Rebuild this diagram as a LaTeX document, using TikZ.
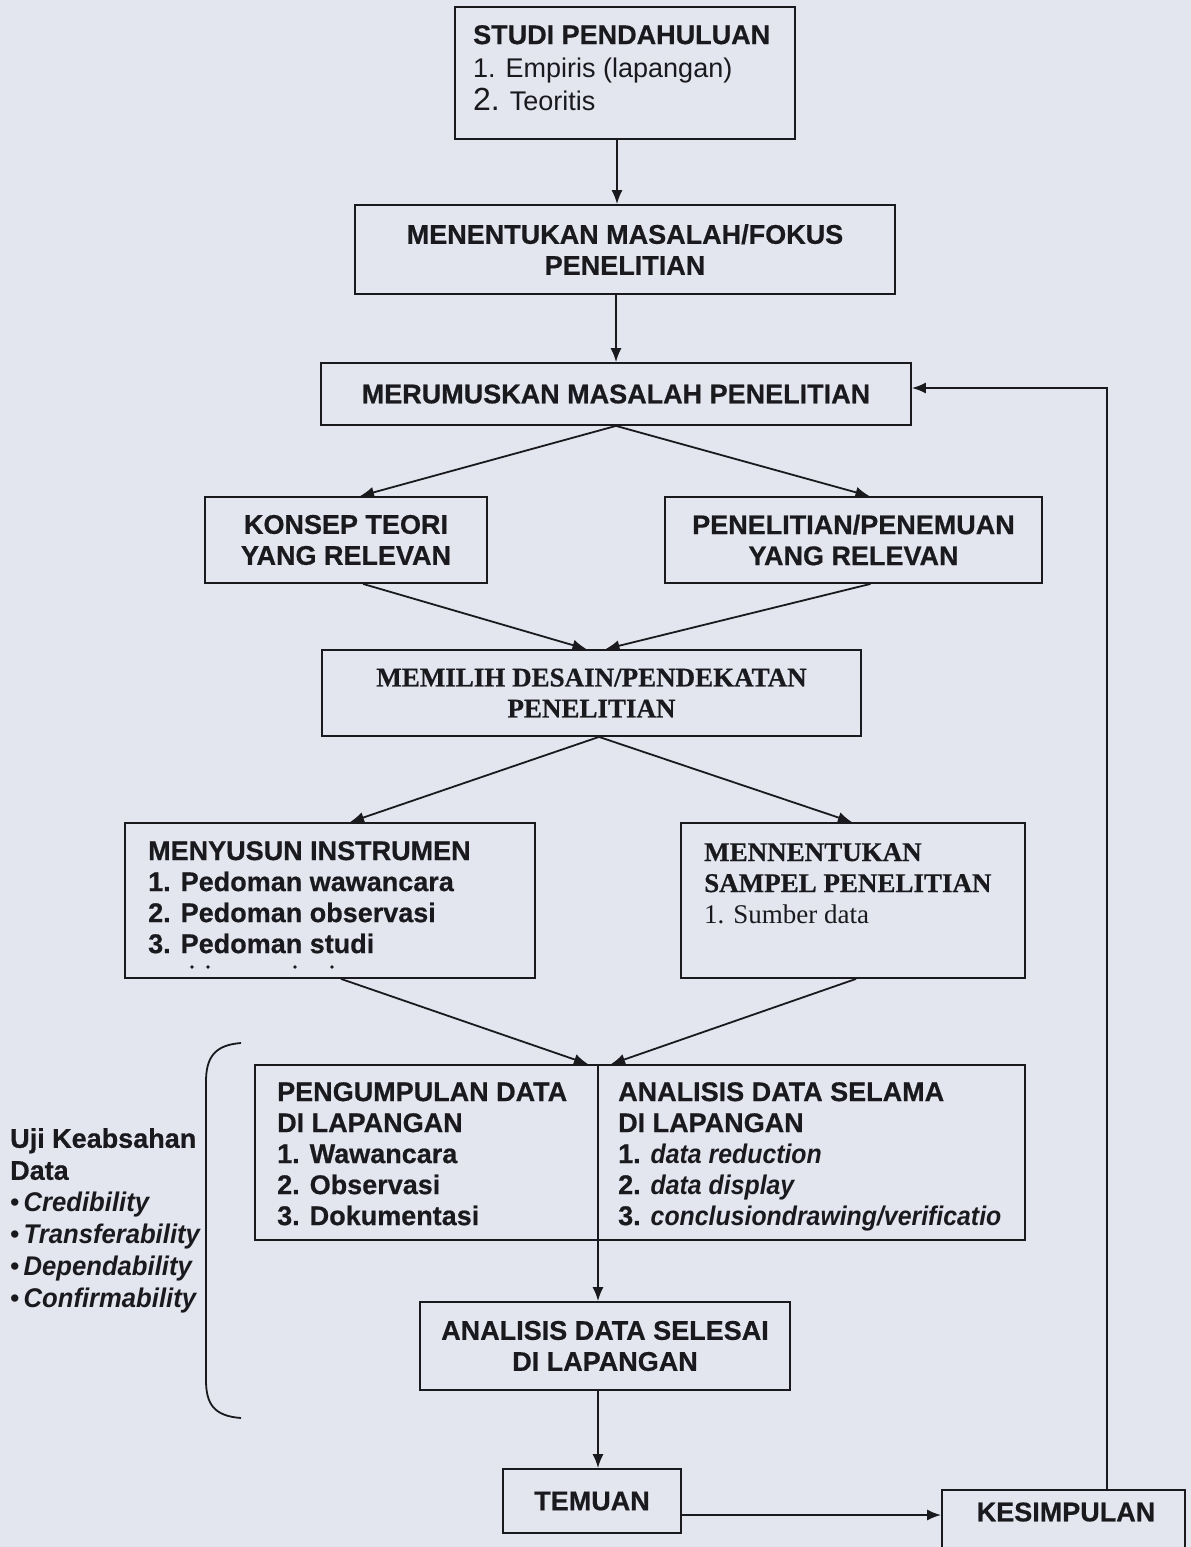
\documentclass[tikz,border=0pt]{standalone}
\usepackage{graphicx}
\usepackage{fontspec}
\setmainfont{Liberation Sans}[BoldFeatures={FakeBold=0.6}]
\newfontfamily\tms{Liberation Serif}[BoldFeatures={FakeBold=0.6}]
\usetikzlibrary{arrows.meta,calc}
\definecolor{bg}{RGB}{227,229,239}
\definecolor{ink}{RGB}{26,26,30}
\newcommand{\nit}[1]{\scalebox{0.92}[1]{\textit{#1}}}
\newcommand{\bit}[1]{\scalebox{0.95}[1]{\textbf{\textit{#1}}}}
\newcommand{\bul}{•\hspace{4pt}}
\begin{document}
\begin{tikzpicture}[x=1pt,y=-1pt,
  box/.style={draw=ink, line width=1.8pt, inner sep=0pt},
  lbl/.style={text=ink, font=\fontsize{27}{31}\selectfont\bfseries, align=center},
  tlbl/.style={text=ink, font=\fontsize{27}{31}\selectfont\tms\bfseries, align=center},
  txt/.style={text=ink, font=\fontsize{27}{31}\selectfont\bfseries, align=left, inner sep=0pt, anchor=north west},
  arr/.style={line width=1.8pt, draw=ink, -{Latex[length=14pt,width=11pt]}}]
\clip (0,0) rectangle (1191,1547);
\fill[bg] (0,0) rectangle (1191,1547);

% boxes
\node[box, minimum width=340pt, minimum height=132pt] (studi) at (625,73) {};
\node[txt, font=\fontsize{27}{33}\selectfont] (studiT) at (473,25)
  {\textbf{STUDI PENDAHULUAN}\\1. Empiris (lapangan)\\{\fontsize{32}{33}\selectfont 2.} Teoritis};

\node[box, lbl, minimum width=540pt, minimum height=89pt] (fokus) at (625,249.5)
  {MENENTUKAN MASALAH/FOKUS\\PENELITIAN};

\node[box, lbl, minimum width=590pt, minimum height=62pt] (rumus) at (616,394)
  {MERUMUSKAN MASALAH PENELITIAN};

\node[box, lbl, minimum width=282pt, minimum height=86pt] (konsep) at (346,540)
  {KONSEP TEORI\\YANG RELEVAN};
\node[box, lbl, minimum width=377pt, minimum height=86pt] (relevan) at (853.5,540)
  {PENELITIAN/PENEMUAN\\YANG RELEVAN};

\node[box, tlbl, minimum width=539pt, minimum height=86pt] (desain) at (591.5,693)
  {MEMILIH DESAIN/PENDEKATAN\\PENELITIAN};

\node[box, minimum width=410pt, minimum height=155pt] (instr) at (330,900.5) {};
\node[txt] (instrT) at (148,841)
  {MENYUSUN INSTRUMEN\\1. Pedoman wawancara\\2. Pedoman observasi\\3. Pedoman studi};
\foreach \dx in {192,208,295,332} \fill[ink] (\dx,967) circle (1.8pt);

\node[box, minimum width=344pt, minimum height=155pt] (sampel) at (853,900.5) {};
\node[txt, font=\fontsize{27}{31}\selectfont\tms\bfseries] (sampelT) at (704,843)
  {MENNENTUKAN\\SAMPEL PENELITIAN\\{\mdseries 1. Sumber data}};

\node[box, minimum width=770pt, minimum height=175pt] (kumpul) at (640,1152.5) {};
\node[txt] (kumpulL) at (277,1082)
  {PENGUMPULAN DATA\\DI LAPANGAN\\1. Wawancara\\2. Observasi\\3. Dokumentasi};
\node[txt] (kumpulR) at (618,1082)
  {ANALISIS DATA SELAMA\\DI LAPANGAN\\1. \nit{data reduction}\\2. \nit{data display}\\3. \nit{conclusiondrawing/verificatio}};

\node[box, lbl, minimum width=370pt, minimum height=88pt] (selesai) at (605,1346)
  {ANALISIS DATA SELESAI\\DI LAPANGAN};

\node[box, lbl, minimum width=178pt, minimum height=64pt] (temuan) at (592,1501) {TEMUAN};

\node[box, minimum width=243pt, minimum height=100pt] (simpul) at (1063.5,1540) {};
\node[lbl, inner sep=0pt] (simpulT) at (1066,1512) {KESIMPULAN};

% left note
\node[txt, font=\fontsize{27}{32}\selectfont] (uji) at (10,1128)
  {\textbf{Uji Keabsahan}\\\textbf{Data}\\\bul\bit{Credibility}\\\bul\bit{Transferability}\\\bul\bit{Dependability}\\\bul\bit{Confirmability}};
\draw[ink, line width=1.8pt] (241,1043) .. controls (214,1045) and (206,1058) .. (206,1082)
  -- (206,1380) .. controls (206,1404) and (214,1416) .. (241,1418);

% connectors
\draw[arr] ([xshift=-8pt]studi.south) -- ([xshift=-8pt]fokus.north);
\draw[arr] (fokus.south -| rumus.north) -- (rumus.north);
\draw[arr] (rumus.south) -- ([xshift=14pt]konsep.north);
\draw[arr] (rumus.south) -- ([xshift=16pt]relevan.north);
\draw[arr] ([xshift=17pt]konsep.south) -- ([xshift=-5pt]desain.north);
\draw[arr] ([xshift=17pt]relevan.south) -- ([xshift=14pt]desain.north);
\draw[arr] ([xshift=7.5pt]desain.south) -- ([xshift=20pt]instr.north);
\draw[arr] ([xshift=7.5pt]desain.south) -- ([xshift=-1pt]sampel.north);
\draw[arr] ([xshift=11pt]instr.south) -- ([xshift=-52pt]kumpul.north);
\draw[arr] ([xshift=3pt]sampel.south) -- ([xshift=-29pt]kumpul.north);
\draw[arr] ([xshift=-42pt]kumpul.north) -- ([xshift=-7pt]selesai.north);
\draw[arr] ([xshift=-7pt]selesai.south) -- ([xshift=6pt]temuan.north);
\draw[arr] ([yshift=-14pt]temuan.east) -- ([yshift=-14pt]temuan.east -| simpul.west);
\draw[arr] ([xshift=43.5pt]simpul.north) |- ([yshift=6pt]rumus.east);
\end{tikzpicture}
\end{document}
